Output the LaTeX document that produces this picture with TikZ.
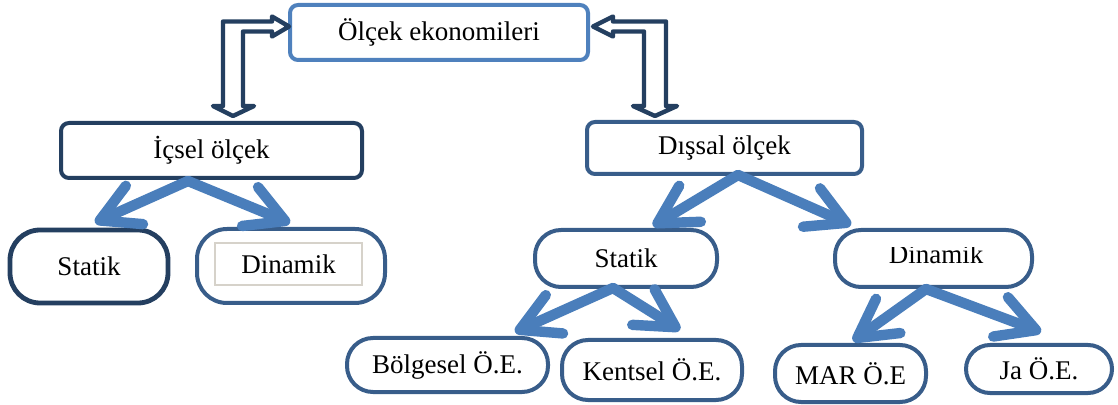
\documentclass[tikz,border=0pt]{standalone}
\usepackage{fontspec}
\setmainfont{Liberation Serif}
\usetikzlibrary{calc,arrows.meta}

\definecolor{lightblue}{HTML}{4F81BD}
\definecolor{navy}{HTML}{243F60}
\definecolor{midblue}{HTML}{385D8A}
\definecolor{branchblue}{HTML}{4A7EBB}
\definecolor{boxgray}{HTML}{D6D2CA}

\tikzset{
	labelfont/.style={font=\fontsize{13.5}{15}\selectfont},
	rectbox/.style={draw, line width=2pt, rounded corners=4pt, inner sep=0pt, fill=white, labelfont},
	pillbox/.style={draw=midblue, line width=2pt, rounded corners=13pt, inner sep=0pt, fill=white, labelfont},
	branch/.style={draw=branchblue, line width=5.2pt, line cap=round, -{Straight Barb[round, length=19pt, width=21pt]}},
	hollow/.style={draw=navy, line width=2.2pt, line join=round, fill=white}
}

\begin{document}
\begin{tikzpicture}[x=0.5pt, y=-0.5pt]
			%%%%% START %%%%%
			\useasboundingbox (0,0) rectangle (1118,405);
			
			\node[rectbox, draw=lightblue, minimum width=149pt, minimum height=27.5pt] (top) at (439,32.5) {Ölçek ekonomileri};
			
			\node[rectbox, draw=navy, minimum width=150.5pt, minimum height=27.5pt] (ic) at (211.5,150.5) {İçsel ölçek};
			\node[rectbox, draw=midblue, minimum width=137.5pt, minimum height=26pt] (dis) at (724.5,148) {Dışsal ölçek};
			
			\node[pillbox, draw=navy, line width=2.4pt, rounded corners=15pt, minimum width=79pt, minimum height=36.5pt] (ls) at (89,266.5) {Statik};
			\node[pillbox, rounded corners=15pt, minimum width=94pt, minimum height=37pt] (ld) at (291,266) {};
			\node[draw=boxgray, line width=1pt, minimum width=73.5pt, minimum height=21pt, inner sep=0pt, labelfont] (ldt) at (288.5,264) {Dinamik};
			
			\node[pillbox, minimum width=91pt, minimum height=28.5pt] (rs) at (626,258.5) {Statik};
			\node[pillbox, minimum width=98.5pt, minimum height=28.5pt] (rd) at (933.5,258.5) {};
			\begin{scope}
				\clip (835,248) rectangle (1035,263.5);
				\node[labelfont, anchor=base, inner sep=0pt] (rdt) at (936,264) {Dinamik};
			\end{scope}
			
			\node[pillbox, minimum width=100.5pt, minimum height=27pt] (bo) at (447.5,365) {Bölgesel Ö.E.};
			\node[pillbox, minimum width=90pt, minimum height=30pt] (ke) at (652,370) {Kentsel Ö.E.};
			\node[pillbox, minimum width=75.5pt, minimum height=28.5pt, text depth=-4pt] (mar) at (850.5,373.5) {MAR Ö.E};
			\node[pillbox, rounded corners=12pt, minimum width=73pt, minimum height=24pt] (ja) at (1039,369) {Ja Ö.E.};
			
			%% hollow bent arrows from the top box
			\coordinate (l1) at ($(top.west)+(1,-6)$);
			\coordinate (l2) at ($(ic.north)+(21.5,-5)$);
			\draw[hollow] (l1) -- ++(-17,-10) -- ++(0,5) -| ($(l2)+(-10,-10)$) -- ++(-10,0) -- (l2) -- ++(21,-10) -- ++(-11,0) |- ($(l1)+(-17,5)$) -- ++(0,5) -- cycle;
			
			\coordinate (r1) at ($(top.east)+(3,-6)$);
			\coordinate (r2) at ($(dis.north)+(-69.5,-4)$);
			\draw[hollow] (r1) -- ++(20,-10) -- ++(0,5) -| ($(r2)+(11,-10)$) -- ++(11,0) -- (r2) -- ++(-22,-10) -- ++(11,0) |- ($(r1)+(20,5)$) -- ++(0,5) -- cycle;
			
			%% branches
			\coordinate (icb) at ($(ic.south)+(-23.5,1)$);
			\draw[branch] (icb) -- ($(ls.north)+(6,-5)$);
			\draw[branch] (icb) -- ($(ld.north)+(-1,-4)$);
			
			\coordinate (disb) at ($(dis.south)+(13.5,-1)$);
			\draw[branch] (disb) -- ($(rs.north)+(27,-2)$);
			\draw[branch] (disb) -- ($(rd.north)+(-82.5,-3)$);
			
			\coordinate (rsb) at ($(rs.south)+(-13,-1)$);
			\draw[branch] (rsb) -- ($(bo.north)+(67.5,-4)$);
			\draw[branch] (rsb) -- ($(ke.north)+(28,-8)$);
			
			\coordinate (rdb) at ($(rd.south)+(-7.5,0)$);
			\draw[branch] (rdb) -- ($(mar.north)+(2.5,-2)$);
			\draw[branch] (rdb) -- ($(ja.north)+(2,-11)$);
			
			%%%%% END %%%%%
\end{tikzpicture}
\end{document}
